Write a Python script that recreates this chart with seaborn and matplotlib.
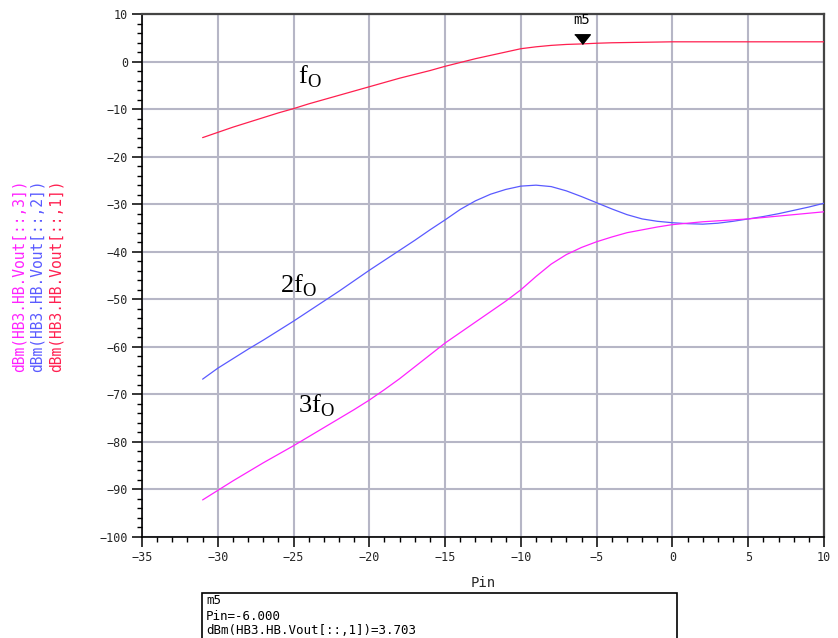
#!/usr/bin/env python3
"""
Harmonic balance sweep: output power of fo, 2fo, 3fo versus Pin.
"""

import numpy as np
import pandas as pd
import matplotlib
matplotlib.use("Agg")
import matplotlib.pyplot as plt
from matplotlib.patches import Rectangle
from matplotlib.ticker import MultipleLocator
import seaborn as sns

# Data
PIN = [-31, -30, -29, -28, -27, -26, -25, -24, -23, -22, -21, -20, -19, -18,
       -17, -16, -15, -14, -13, -12, -11, -10, -9, -8, -7, -6, -5, -4, -3,
       -2, -1, 0, 1, 2, 3, 4, 5, 6, 7, 8, 9, 10]
FUND = [-16.0, -14.9, -13.8, -12.8, -11.8, -10.8, -9.9, -8.9, -8.0, -7.1,
        -6.2, -5.3, -4.4, -3.5, -2.7, -1.9, -1.0, -0.2, 0.6, 1.3, 2.0, 2.7,
        3.1, 3.4, 3.6, 3.703, 3.85, 3.95, 4.0, 4.05, 4.1, 4.15, 4.15, 4.15,
        4.15, 4.15, 4.15, 4.15, 4.15, 4.15, 4.15, 4.15]
HARM2 = [-66.8, -64.5, -62.5, -60.5, -58.6, -56.6, -54.6, -52.5, -50.4, -48.3,
         -46.1, -43.9, -41.8, -39.7, -37.6, -35.4, -33.3, -31.1, -29.3, -27.9,
         -26.9, -26.2, -26.0, -26.3, -27.2, -28.4, -29.7, -31.0, -32.2, -33.1,
         -33.6, -33.9, -34.1, -34.2, -34.0, -33.6, -33.1, -32.6, -32.0, -31.3,
         -30.6, -29.8]
HARM3 = [-92.2, -90.2, -88.2, -86.3, -84.4, -82.6, -80.8, -78.9, -77.0, -75.1,
         -73.2, -71.2, -69.0, -66.7, -64.2, -61.7, -59.2, -57.0, -54.8, -52.6,
         -50.4, -48.0, -45.2, -42.6, -40.6, -39.1, -37.9, -36.9, -36.0, -35.4,
         -34.8, -34.3, -34.0, -33.7, -33.5, -33.3, -33.1, -32.8, -32.5, -32.2,
         -31.9, -31.6]

SERIES = ["dBm(HB3.HB.Vout[::,1])", "dBm(HB3.HB.Vout[::,2])",
          "dBm(HB3.HB.Vout[::,3])"]
COLORS = ["#ff1f4f", "#5a5aff", "#ff22ff"]
CURVE_LABELS = [r"f$_{\rm O}$", r"2f$_{\rm O}$", r"3f$_{\rm O}$"]
LABEL_POS = [(-24.7, -4.6), (-25.9, -48.6), (-24.7, -73.8)]

MARKER_X = -6.0
MARKER_Y = 3.703

W, H = 838, 638


def fx(px):
    return px / W


def fy(py):
    return 1 - py / H


def main():
    sns.set_theme(style="white")
    plt.rcParams.update({
        "font.family": ["DejaVu Sans Mono"],
        "mathtext.fontset": "custom",
        "mathtext.rm": "Liberation Serif",
        "axes.unicode_minus": True,
    })

    df = pd.DataFrame({
        "Pin": PIN * 3,
        "dBm": FUND + HARM2 + HARM3,
        "trace": [SERIES[0]] * len(PIN) + [SERIES[1]] * len(PIN)
                 + [SERIES[2]] * len(PIN),
    })

    fig = plt.figure(figsize=(W / 100, H / 100), dpi=100)
    ax = fig.add_axes([fx(142), fy(537), fx(824) - fx(142), fy(14) - fy(537)])

    sns.lineplot(data=df, x="Pin", y="dBm", hue="trace", hue_order=SERIES,
                 palette=COLORS, linewidth=0.9, legend=False, ax=ax, zorder=3)

    ax.set_xlim(-35, 10)
    ax.set_ylim(-100, 10)
    ax.xaxis.set_major_locator(MultipleLocator(5))
    ax.xaxis.set_minor_locator(MultipleLocator(1))
    ax.yaxis.set_major_locator(MultipleLocator(10))
    ax.yaxis.set_minor_locator(MultipleLocator(2))
    ax.tick_params(which="major", direction="out", length=7, width=1.1,
                   labelsize=8.5, pad=3, color="black", bottom=True, left=True)
    ax.tick_params(which="minor", direction="out", length=3.5, width=1.0,
                   color="black", bottom=True, left=True)
    ax.grid(True, which="major", color="#b6b6c6", linewidth=1.5, zorder=0)

    for side in ["left", "bottom"]:
        ax.spines[side].set_color("black")
        ax.spines[side].set_linewidth(1.2)
    for side in ["top", "right"]:
        ax.spines[side].set_color("#444444")
        ax.spines[side].set_linewidth(1.6)

    ax.set_xlabel("Pin", fontsize=10, labelpad=9)
    ax.set_ylabel("")

    # curve names
    for lab, (x, y) in zip(CURVE_LABELS, LABEL_POS):
        ax.text(x, y, lab, fontsize=19, family="Liberation Serif",
                ha="left", va="baseline", color="black", zorder=4)

    # marker m5 (tip sits on the trace)
    ax.plot([MARKER_X], [MARKER_Y], linestyle="none",
            marker=[(-0.8, 1.0), (0.8, 1.0), (0.0, 0.0)],
            markersize=14, color="black", zorder=5)
    ax.annotate("m5", xy=(MARKER_X, MARKER_Y), xytext=(0, 12),
                textcoords="offset points", ha="center", va="bottom",
                fontsize=10, color="black")

    # stacked coloured y labels
    for px, name, col in zip([19, 37.5, 56], SERIES[::-1], COLORS[::-1]):
        fig.text(fx(px), fy(276), name, rotation=90, ha="center",
                 va="center", fontsize=10.5, color=col)

    # marker readout box
    fig.patches.append(Rectangle((fx(202), fy(640)), fx(677) - fx(202),
                                 fy(593) - fy(640), transform=fig.transFigure,
                                 fill=False, edgecolor="black", linewidth=1.2))
    readout = ["m5", f"Pin={MARKER_X:.3f}",
               f"dBm(HB3.HB.Vout[::,1])={MARKER_Y:.3f}"]
    for py, line in zip([601, 616, 631], readout):
        fig.text(fx(206), fy(py), line, ha="left", va="center", fontsize=9,
                 color="black")

    fig.savefig("out.png", dpi=100)


if __name__ == "__main__":
    main()
